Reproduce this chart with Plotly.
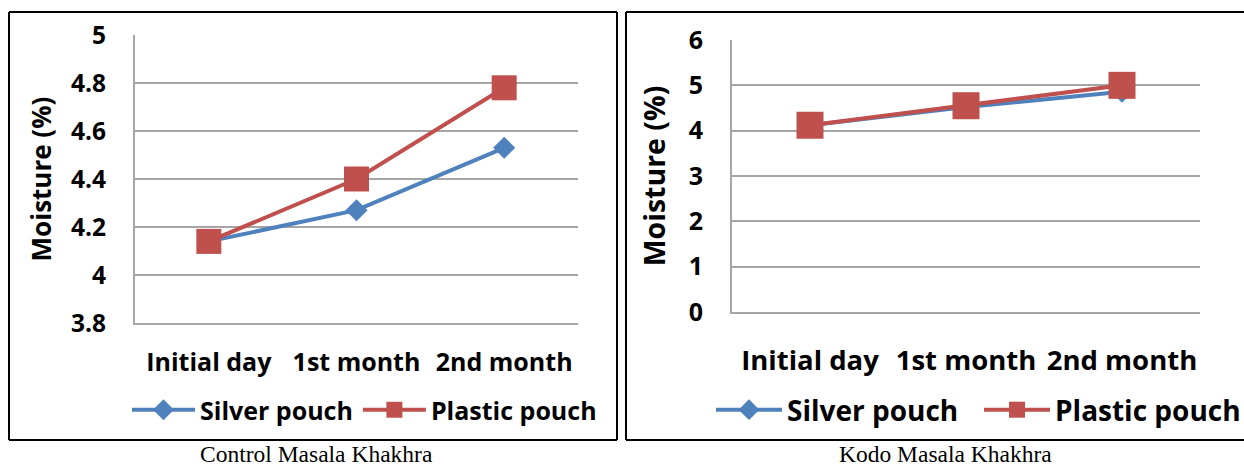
import plotly.graph_objects as go

# Storage periods and moisture readings (%)
periods = ["Initial day", "1st month", "2nd month"]
control_silver = [4.14, 4.27, 4.53]
control_plastic = [4.14, 4.40, 4.78]
kodo_silver = [4.12, 4.52, 4.86]
kodo_plastic = [4.12, 4.55, 5.00]

series_names = ["Silver pouch", "Plastic pouch"]
captions = ["Control Masala Khakhra", "Kodo Masala Khakhra"]
y_title = "Moisture (%)"

W, H = 1244, 466
BLUE = "#4F81BD"
RED = "#C0504D"
GRID = "#A6A6A6"
FONT = "Open Sans"


def px_x(v):
    return v / W


def px_y(v):
    return 1 - v / H


def bold(size):
    return dict(family=FONT, size=size, color="#000", weight="bold")


fig = go.Figure()

panels = [
    dict(silver=control_silver, plastic=control_plastic, xa="x", ya="y", legend="legend", sq=25),
    dict(silver=kodo_silver, plastic=kodo_plastic, xa="x2", ya="y2", legend="legend2", sq=27),
]

for p in panels:
    fig.add_trace(go.Scatter(
        x=periods, y=p["silver"], name=series_names[0], mode="lines+markers",
        xaxis=p["xa"], yaxis=p["ya"], legend=p["legend"],
        line=dict(color=BLUE, width=4),
        marker=dict(symbol="diamond", size=17, color=BLUE),
    ))
    fig.add_trace(go.Scatter(
        x=periods, y=p["plastic"], name=series_names[1], mode="lines+markers",
        xaxis=p["xa"], yaxis=p["ya"], legend=p["legend"],
        line=dict(color=RED, width=4),
        marker=dict(symbol="square", size=p["sq"], color=RED),
    ))


def xaxis_style(domain, size, ticklen, anchor):
    return dict(
        domain=domain, anchor=anchor, type="category", range=[-0.5, 2.5],
        showgrid=False, automargin=False,
        showline=True, linecolor=GRID, linewidth=2,
        ticks="outside", ticklen=ticklen, tickcolor="rgba(0,0,0,0)",
        tickfont=bold(size), fixedrange=True,
    )


def yaxis_style(domain, rng, dtick, size, ticklen, title_size, standoff, anchor):
    return dict(
        domain=domain, range=rng, dtick=dtick, tick0=rng[0], anchor=anchor,
        showgrid=True, gridcolor=GRID, gridwidth=2, automargin=False,
        showline=True, linecolor=GRID, linewidth=2, zeroline=False,
        ticks="outside", ticklen=ticklen, tickcolor="rgba(0,0,0,0)",
        tickfont=bold(size),
        title=dict(text=y_title, standoff=standoff, font=bold(title_size)),
        fixedrange=True,
    )


fig.update_layout(
    width=W, height=H,
    margin=dict(l=0, r=0, t=0, b=0, autoexpand=False),
    paper_bgcolor="white", plot_bgcolor="white",
    xaxis=xaxis_style([px_x(135), px_x(578)], 25, 16, "y"),
    yaxis=yaxis_style([px_y(323), px_y(35)], [3.8, 5.0], 0.2, 24.5, 22, 26, 12, "x"),
    xaxis2=xaxis_style([px_x(732), px_x(1200)], 27.5, 23, "y2"),
    yaxis2=yaxis_style([px_y(312), px_y(40)], [0, 6], 1, 25, 22, 28.5, 15, "x2"),
    legend=dict(
        orientation="h", x=px_x(127), y=px_y(410), xanchor="left", yanchor="middle",
        itemwidth=63, font=bold(25),
        bgcolor="rgba(0,0,0,0)", tracegroupgap=0, itemclick=False,
    ),
    legend2=dict(
        orientation="h", x=px_x(711), y=px_y(410), xanchor="left", yanchor="middle",
        itemwidth=66, entrywidth=187, font=bold(28),
        bgcolor="rgba(0,0,0,0)", tracegroupgap=0, itemclick=False,
    ),
)

# Frames around the two panels
frame = dict(type="line", xref="paper", yref="paper", line=dict(color="#000", width=2))
fig.add_shape(frame | dict(x0=px_x(9), x1=px_x(617), y0=px_y(12), y1=px_y(12)))
fig.add_shape(frame | dict(x0=px_x(9), x1=px_x(617), y0=px_y(440), y1=px_y(440)))
fig.add_shape(frame | dict(x0=px_x(9), x1=px_x(9), y0=px_y(12), y1=px_y(440)))
fig.add_shape(frame | dict(x0=px_x(617), x1=px_x(617), y0=px_y(12), y1=px_y(440)))
fig.add_shape(frame | dict(x0=px_x(626), x1=1.01, y0=px_y(12), y1=px_y(12)))
fig.add_shape(frame | dict(x0=px_x(626), x1=1.01, y0=px_y(440), y1=px_y(440)))
fig.add_shape(frame | dict(x0=px_x(626), x1=px_x(626), y0=px_y(12), y1=px_y(440)))

# Captions beneath each panel
for cx, text in zip([316, 946], captions):
    fig.add_annotation(
        x=px_x(cx), y=-3 / H, xref="paper", yref="paper",
        text=text, showarrow=False, xanchor="center", yanchor="bottom",
        font=dict(family="Liberation Serif", size=23.5, color="#000"),
    )

fig.write_html("out.html")
